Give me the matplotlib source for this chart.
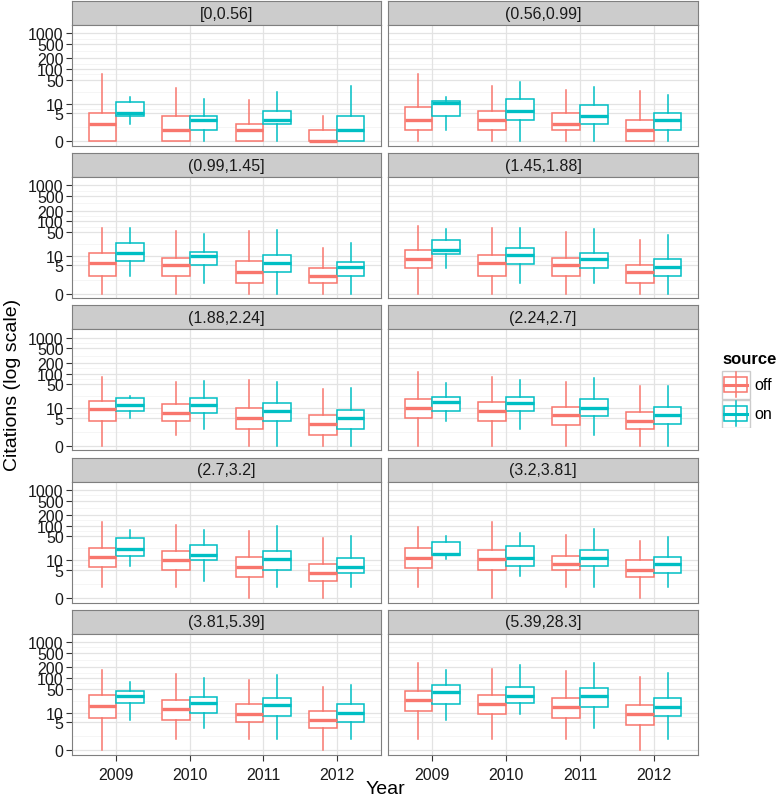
import numpy as np
import matplotlib
matplotlib.use("Agg")
import matplotlib.pyplot as plt
from matplotlib.patches import Rectangle
from matplotlib.lines import Line2D

plt.rcParams['font.family'] = ['Liberation Sans', 'DejaVu Sans']

years = ['2009', '2010', '2011', '2012']
facets = ['[0,0.56]', '(0.56,0.99]', '(0.99,1.45]', '(1.45,1.88]', '(1.88,2.24]',
          '(2.24,2.7]', '(2.7,3.2]', '(3.2,3.81]', '(3.81,5.39]', '(5.39,28.3]']
sources = ['off', 'on']
colors = {'off': '#F8766D', 'on': '#00BFC4'}

# box stats per facet, one value per year (citations)
off_low = [[0, 0, 0, 0], [0, 0, 0, 0], [0, 0, 0, 0], [0, 0, 0, 0], [0, 1, 0, 0],
           [0, 0, 0, 0], [1, 1, 0, 0], [1, 0, 1, 0], [0, 1, 1, 0], [1, 1, 1, 0]]
off_q1 = [[0, 0, 0, 0], [1, 1, 1, 0], [2, 2, 1, 1], [4, 2, 2, 1], [3.8, 3.8, 2, 1],
          [5, 3.8, 2.8, 2], [6, 4.8, 2.9, 2], [5.8, 4.8, 4.8, 2.9], [7, 6, 5, 3], [11, 9, 7, 3.9]]
off_med = [[2, 1, 1, 0], [3, 3, 2, 1], [6, 5, 3, 2], [8, 6, 5, 3], [9.2, 7, 5, 3],
           [10.4, 8, 6, 4], [13, 10, 6, 4], [12, 11, 8, 5], [16, 13, 9, 6], [24, 17.7, 14.4, 9]]
off_q3 = [[5, 4, 2, 1], [8, 6, 5, 3], [12, 9, 7, 4], [15, 11, 9, 5], [16, 13, 10, 6],
          [19, 15, 11, 7.8], [24, 18.5, 13, 8], [24, 21, 14, 10.4], [32, 23, 18, 11.4], [42, 32, 27, 17]]
off_high = [[75, 29, 13, 4], [75, 34, 26, 24], [67, 52, 52, 17.5], [75, 67, 49, 29], [78, 56, 67, 37],
            [110, 80, 59, 44], [128, 103, 73, 44], [93, 126, 55, 37], [163, 131, 87, 55], [268, 182, 153, 103]]

on_low = [[2, 0, 0, 0], [1, 0, 0, 0], [2, 1, 0, 0], [4, 1, 1, 0], [5, 2, 0, 0],
          [4, 2, 1, 0], [6.7, 2, 1, 1], [11.4, 3, 1, 1], [6, 3, 1, 1], [6, 9, 3, 1]]
on_q1 = [[4, 1, 2, 0], [4, 3, 2, 1], [7, 5, 3, 2], [11.6, 5.4, 4, 2], [8, 7, 3.8, 2],
         [8, 8, 5.8, 2.9], [13.7, 10, 5, 3.9], [15, 6.6, 6.7, 3.8], [19, 10, 8, 5], [18, 19, 15, 7.8]]
on_med = [[5, 3, 3, 1], [10.5, 6, 4, 3], [12, 10, 6, 4.4], [15.6, 11, 8, 4.3], [12.8, 12.6, 8, 5],
          [15, 14, 10, 6], [22, 14.4, 11, 6], [16, 12, 12, 8], [30, 19, 16.5, 10], [39.5, 30, 30, 14.7]]
on_q3 = [[11, 4, 6, 4], [12.5, 14, 9, 5], [24, 13, 11, 6.3], [29, 17.5, 12.7, 8], [20, 20, 14.7, 9],
         [21, 21, 19, 11], [46, 29, 18.5, 12], [35, 27, 21, 13], [44, 28, 27, 17.7], [64, 57, 51, 27]]
on_high = [[16, 14, 22, 33], [16.5, 42, 31, 18], [67, 43, 58, 24], [60, 63, 60, 40], [23, 61, 59, 39],
           [54, 65, 73, 44], [78, 76, 97, 50], [53, 63, 81, 47], [76, 99, 123, 64], [167, 235, 268, 140]]

major_breaks = [0, 5, 10, 50, 100, 200, 500, 1000]

stats_src = {'off': (off_low, off_q1, off_med, off_q3, off_high),
             'on': (on_low, on_q1, on_med, on_q3, on_high)}


def fwd(v):
    return np.log10(np.clip(np.asarray(v, dtype=float) + 1, 1e-9, None))


def inv(v):
    return 10 ** np.asarray(v, dtype=float) - 1


W, H = 778, 803
fig = plt.figure(figsize=(W / 100, H / 100), dpi=100)
fig.patch.set_facecolor('white')


def frac(x, y, w, h):
    return [x / W, 1 - (y + h) / H, w / W, h / H]


col_x = [72, 388]
col_w = [309, 310]
row_top = [26 + i * 152.2 for i in range(5)]
panel_h = 121
strip_h = 24

tb = fwd(major_breaks)
minor = inv((tb[:-1] + tb[1:]) / 2)
ylo, yhi = inv(-0.13), inv(3.23)

for k, lab in enumerate(facets):
    r, c = divmod(k, 2)
    x0, w, top = col_x[c], col_w[c], row_top[r]

    # strip
    sax = fig.add_axes(frac(x0, top - strip_h, w, strip_h))
    sax.set_facecolor('#CCCCCC')
    sax.set_xticks([]); sax.set_yticks([])
    for sp in sax.spines.values():
        sp.set_color('#7F7F7F'); sp.set_linewidth(0.8)
    sax.text(0.5, 0.5, lab, ha='center', va='center', fontsize=11.5, color='#1A1A1A',
             transform=sax.transAxes)

    ax = fig.add_axes(frac(x0, top, w, panel_h))
    ax.set_yscale('function', functions=(fwd, inv))
    ax.set_ylim(ylo, yhi)
    ax.set_xlim(0.4, 4.6)
    for m in minor:
        ax.axhline(m, color='#F5F5F5', lw=0.7, zorder=0)
    for b in major_breaks:
        ax.axhline(b, color='#E3E3E3', lw=0.9, zorder=0)
    for i in range(len(years)):
        ax.axvline(i + 1, color='#E3E3E3', lw=0.9, zorder=0)

    for s, off in zip(sources, [-0.1875, 0.1875]):
        lo, q1, med, q3, hi = stats_src[s]
        bstats = []
        for i in range(len(years)):
            bstats.append({'whislo': lo[k][i], 'q1': q1[k][i], 'med': med[k][i],
                           'q3': q3[k][i], 'whishi': hi[k][i]})
        pos = [i + 1 + off for i in range(len(years))]
        ax.bxp(bstats, positions=pos, widths=0.375, showfliers=False, showcaps=False,
               patch_artist=True, manage_ticks=False,
               boxprops=dict(facecolor='white', edgecolor=colors[s], linewidth=1.1),
               whiskerprops=dict(color=colors[s], linewidth=1.1),
               medianprops=dict(color=colors[s], linewidth=2.4, solid_capstyle='butt'),
               zorder=3)

    ax.set_yticks(major_breaks)
    ax.set_yticks([], minor=True)
    ax.set_xticks(range(1, len(years) + 1))
    ax.tick_params(axis='both', direction='out', length=4, width=0.8, color='#333333',
                   labelsize=11.5, labelcolor='#1A1A1A')
    ax.tick_params(axis='y', pad=2)
    ax.tick_params(axis='x', pad=5)
    if c == 0:
        ax.set_yticklabels([str(b) for b in major_breaks])
    else:
        ax.tick_params(axis='y', length=0, labelleft=False)
    if r == 4:
        ax.set_xticklabels(years)
    else:
        ax.tick_params(axis='x', length=0, labelbottom=False)
    for sp in ax.spines.values():
        sp.set_color('#7F7F7F'); sp.set_linewidth(0.8)

fig.text(385 / W, 1 - 790 / H, 'Year', ha='center', va='center', fontsize=14)
fig.text(13 / W, 1 - 385 / H, 'Citations (log scale)', ha='center', va='center',
         rotation=90, fontsize=14)

# legend
fig.text(722 / W, 1 - 360 / H, 'source', ha='left', va='center', fontsize=12,
         fontweight='bold')
lax = fig.add_axes(frac(721, 371, 57, 58))
lax.set_xlim(0, 57); lax.set_ylim(58, 0)
lax.axis('off')
for j, s in enumerate(sources):
    y0 = j * 29
    lax.add_patch(Rectangle((0.5, y0 + 0.5), 28, 28, facecolor='white', edgecolor='#CCCCCC', lw=1))
    lax.add_line(Line2D([14.5, 14.5], [y0 + 2, y0 + 27], color=colors[s], lw=1.1))
    lax.add_patch(Rectangle((3, y0 + 7), 23, 15, facecolor='white', edgecolor=colors[s], lw=1.1))
    lax.add_line(Line2D([3, 26], [y0 + 14.5, y0 + 14.5], color=colors[s], lw=2.2))
    lax.text(33, y0 + 14.5, s, ha='left', va='center', fontsize=11.5)

fig.savefig('out.png', dpi=100, facecolor='white')
